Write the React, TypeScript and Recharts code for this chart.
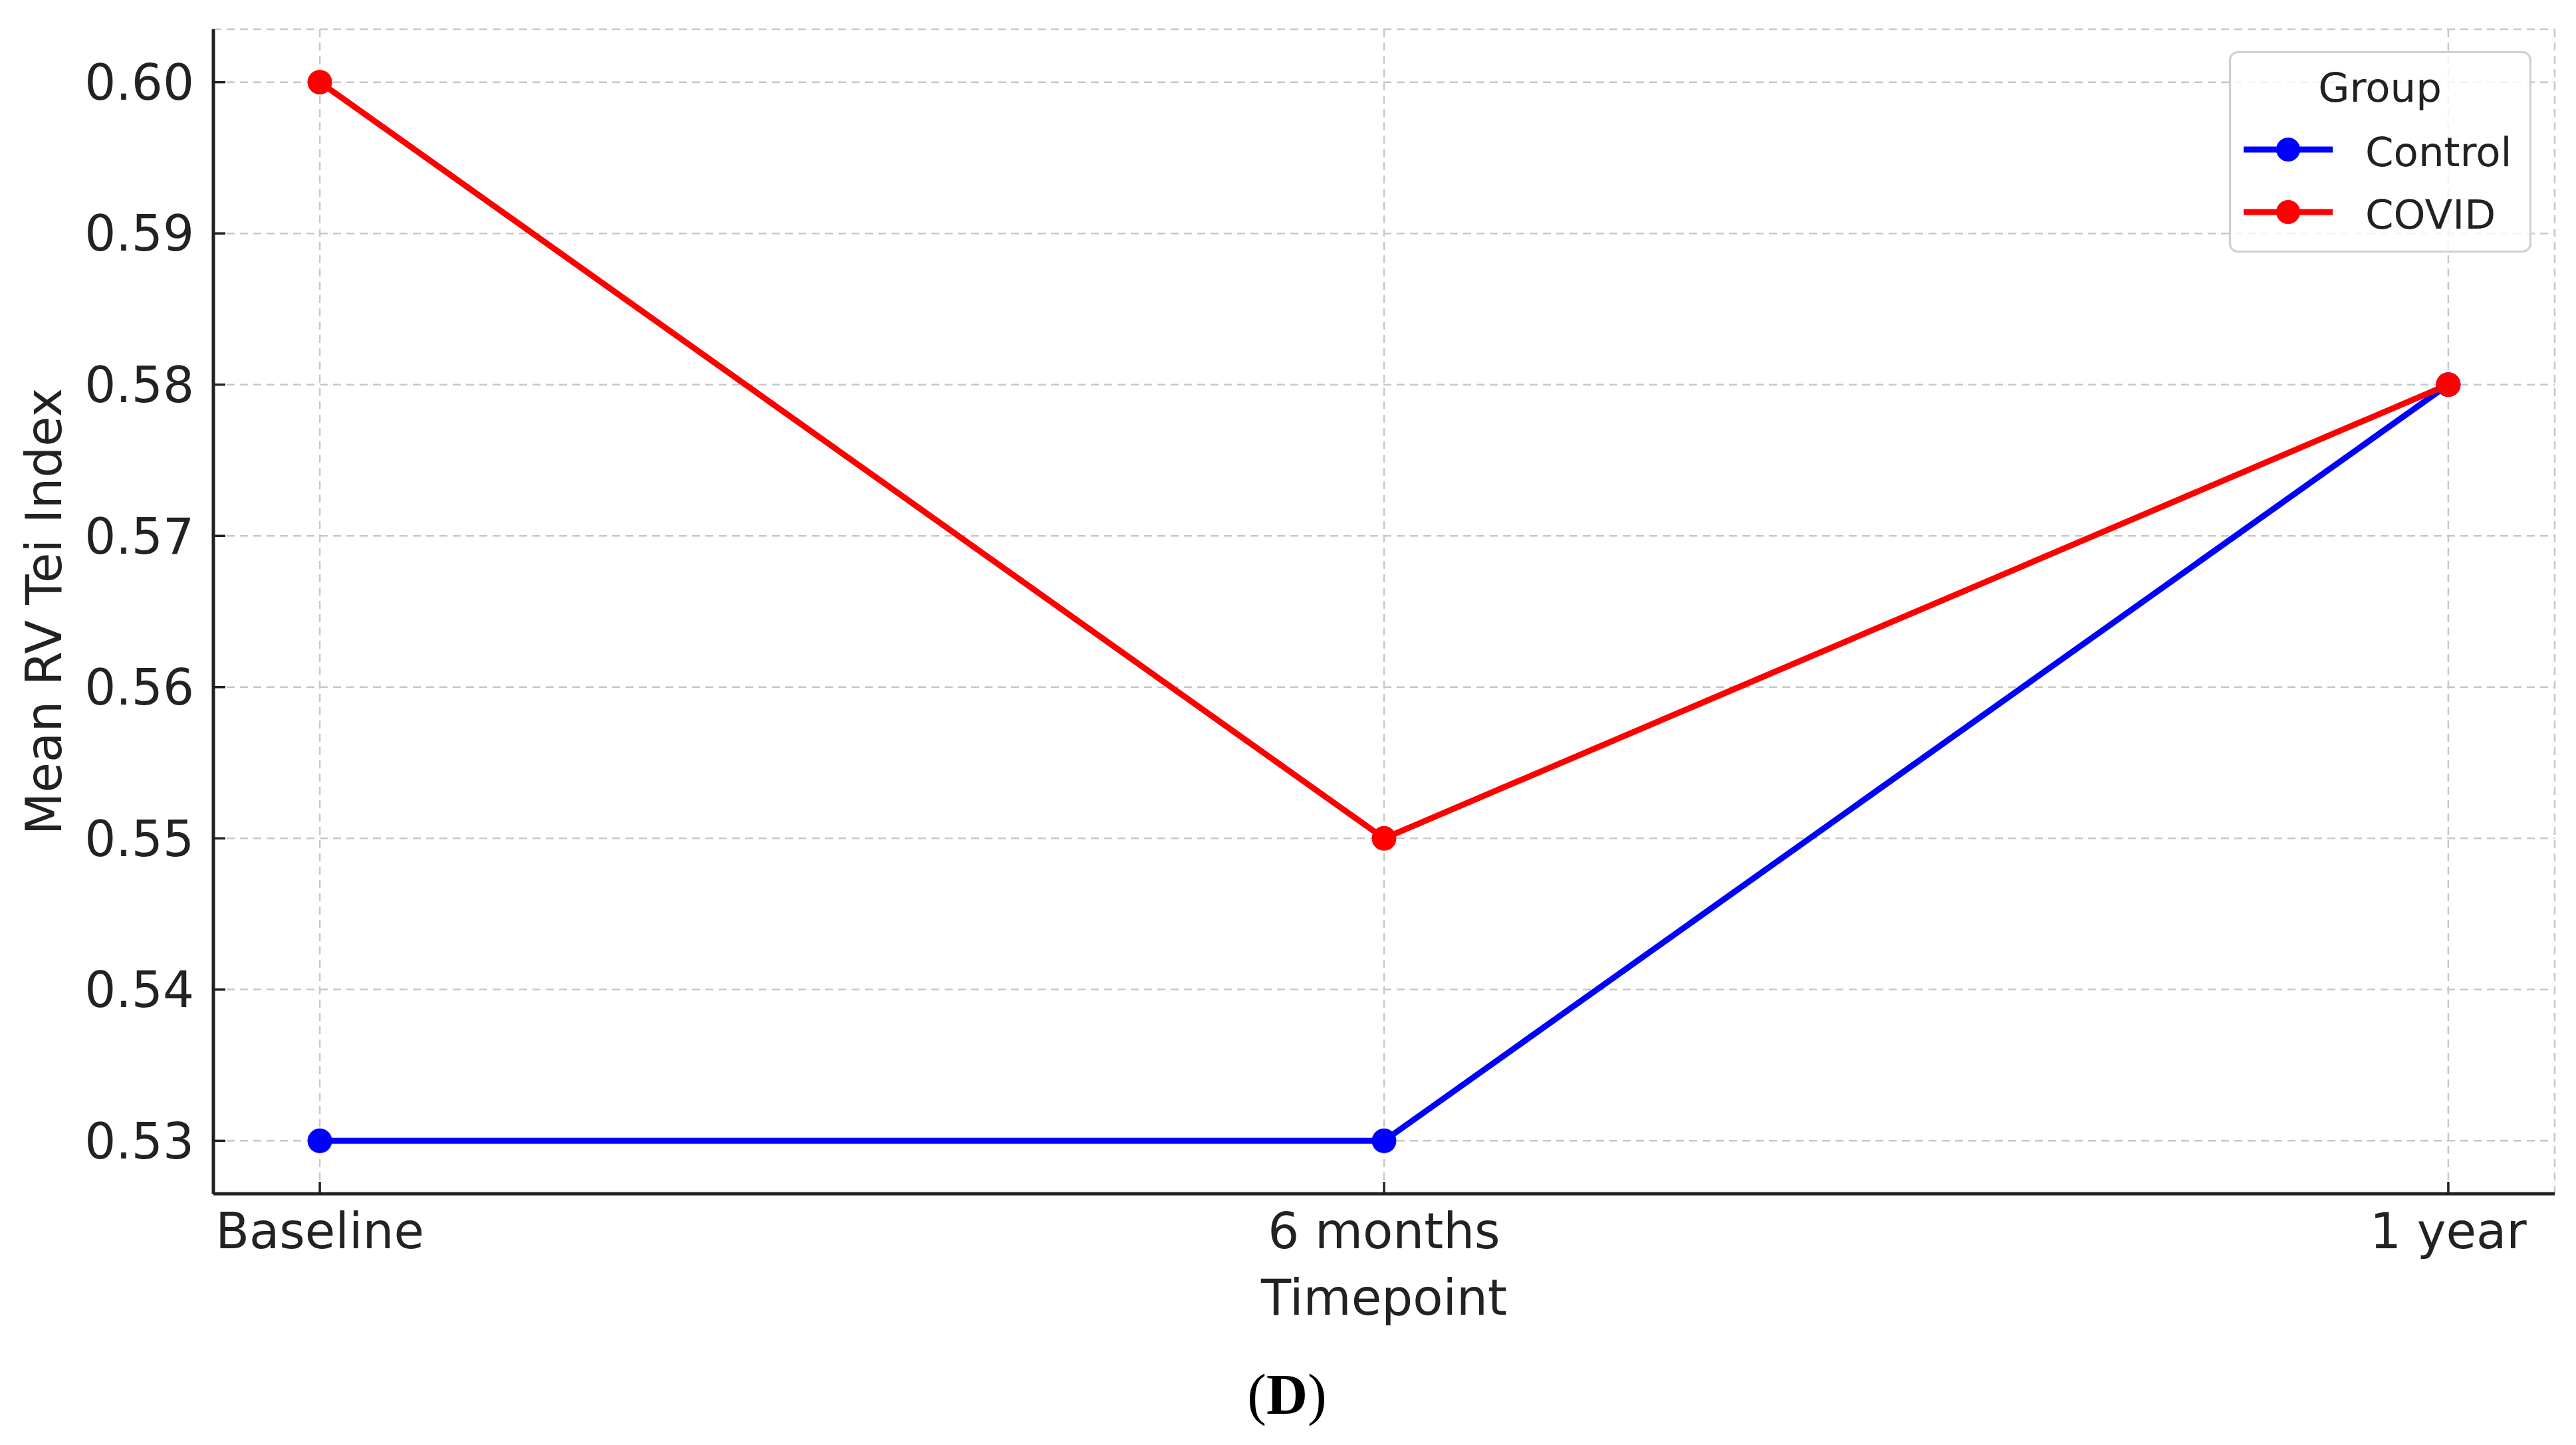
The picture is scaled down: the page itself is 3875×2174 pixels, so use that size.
import React from 'react'
import {
  LineChart,
  Line,
  XAxis,
  YAxis,
  CartesianGrid,
  Legend,
  Label,
} from 'recharts'

const timepoints = ['Baseline', '6 months', '1 year']
const groups = ['Control', 'COVID']
const controlValues = [0.53, 0.53, 0.58]
const covidValues = [0.6, 0.55, 0.58]
const yTicks = [0.53, 0.54, 0.55, 0.56, 0.57, 0.58, 0.59, 0.6]

const FONT = '"DejaVu Sans", sans-serif'
const INK = '#222222'

const data = timepoints.map((name, i) => ({
  t: i,
  name,
  Control: controlValues[i],
  COVID: covidValues[i],
}))

const LegendBox = ({ payload }: any) => {
  // keep the plotting order, recharts sorts by name otherwise
  const items = [...(payload || [])].sort(
    (a: any, b: any) => groups.indexOf(a.value) - groups.indexOf(b.value)
  )
  return (
    <svg width={455} height={303} style={{ display: 'block' }}>
      <rect x={1.5} y={1.5} width={452} height={300} rx={12} fill="#ffffff" fillOpacity={0.8} stroke="#cfcfcf" strokeWidth={3} />
      <text x={227} y={76} textAnchor="middle" fontFamily={FONT} fontSize={61} fill={INK}>
        Group
      </text>
      {items.map((p: any, i: number) => {
        const cy = 148 + i * 94
        return (
          <g key={p.value}>
            <line x1={22} x2={156} y1={cy} y2={cy} stroke={p.color} strokeWidth={9} />
            <circle cx={89} cy={cy} r={18} fill={p.color} />
            <text x={205} y={cy + 25} fontFamily={FONT} fontSize={61} fill={INK}>
              {p.value}
            </text>
          </g>
        )
      })}
    </svg>
  )
}

const XTitle = ({ viewBox }: any) => (
  <text x={viewBox.x + viewBox.width / 2} y={1978} textAnchor="middle" fontFamily={FONT} fontSize={74} fill={INK}>
    Timepoint
  </text>
)

const YTitle = ({ viewBox }: any) => {
  const cy = viewBox.y + viewBox.height / 2
  return (
    <text x={92} y={cy} transform={`rotate(-90, 92, ${cy})`} textAnchor="middle" fontFamily={FONT} fontSize={74} fill={INK}>
      Mean RV Tei Index
    </text>
  )
}

export default function App() {
  return (
    <div style={{ position: 'absolute', left: 0, top: 0, width: 3875, height: 2174, background: '#ffffff' }}>
      <LineChart width={3875} height={2174} data={data} margin={{ top: 44, right: 32, left: 0, bottom: 218 }}>
        <CartesianGrid stroke="#c8c8c8" strokeWidth={2.5} strokeDasharray="12 8" />
        <XAxis
          type="number"
          dataKey="t"
          domain={[-0.1, 2.1]}
          ticks={[0, 1, 2]}
          allowDataOverflow
          tickFormatter={(v: number) => timepoints[v]}
          height={160}
          tickSize={-18}
          tickMargin={47}
          axisLine={{ stroke: INK, strokeWidth: 5 }}
          tickLine={{ stroke: INK, strokeWidth: 3.5 }}
          tick={{ fontSize: 74, fill: INK, fontFamily: FONT }}
          interval={0}
        >
          <Label content={<XTitle />} />
        </XAxis>
        <YAxis
          type="number"
          domain={[0.5265, 0.6035]}
          ticks={yTicks}
          allowDataOverflow
          tickFormatter={(v: number) => v.toFixed(2)}
          width={321}
          tickSize={-18}
          tickMargin={47}
          axisLine={{ stroke: INK, strokeWidth: 5 }}
          tickLine={{ stroke: INK, strokeWidth: 3.5 }}
          tick={{ fontSize: 74, fill: INK, fontFamily: FONT }}
          interval={0}
        >
          <Label content={<YTitle />} />
        </YAxis>
        <Legend
          layout="vertical"
          align="center"
          verticalAlign="middle"
          content={<LegendBox />}
          wrapperStyle={{ left: 3353, top: 77, width: 455, height: 303 }}
        />
        <Line
          dataKey="Control"
          name="Control"
          stroke="#0000ff"
          strokeWidth={9}
          dot={{ r: 18.5, fill: '#0000ff', stroke: 'none' }}
          activeDot={false}
          isAnimationActive={false}
        />
        <Line
          dataKey="COVID"
          name="COVID"
          stroke="#ff0000"
          strokeWidth={9}
          dot={{ r: 18.5, fill: '#ff0000', stroke: 'none' }}
          activeDot={false}
          isAnimationActive={false}
        />
      </LineChart>
      <svg width={3875} height={2174} style={{ position: 'absolute', left: 0, top: 0, pointerEvents: 'none' }}>
        <text x={1936} y={2127} textAnchor="middle" fontFamily='"Liberation Serif", serif' fontSize={86} fill="#000000">
          (<tspan fontWeight="bold">D</tspan>)
        </text>
      </svg>
    </div>
  )
}
